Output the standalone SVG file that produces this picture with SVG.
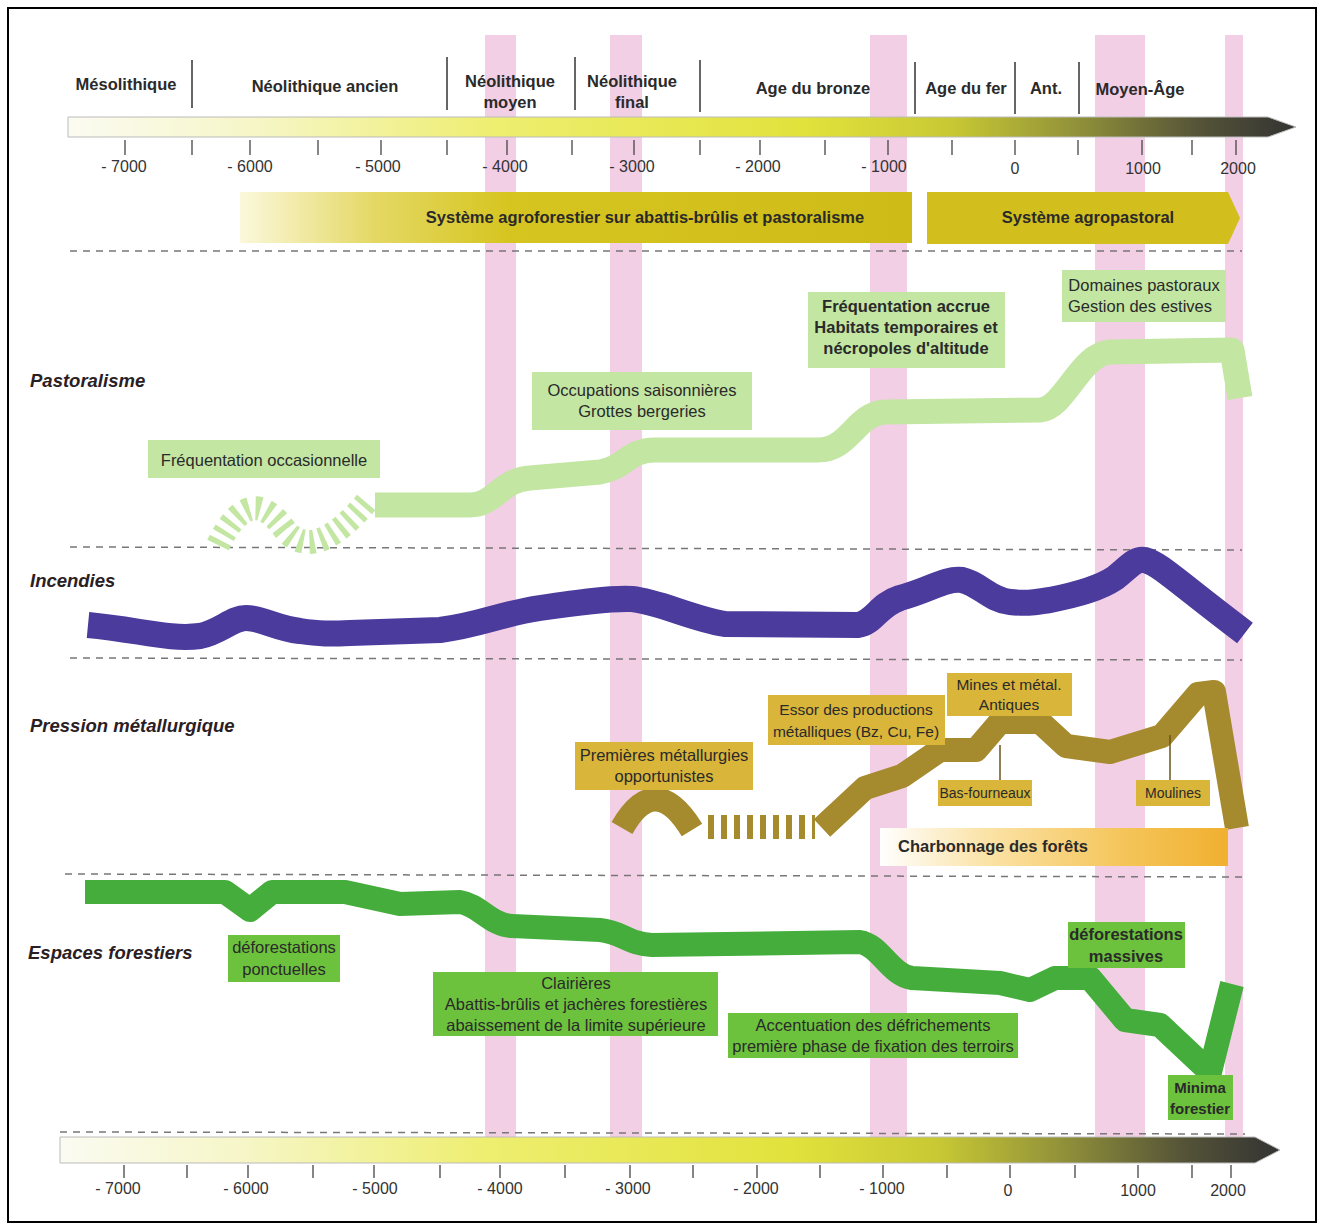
<svg xmlns="http://www.w3.org/2000/svg" width="1324" height="1232" viewBox="0 0 1324 1232">
<defs>
<linearGradient id="axisGrad" x1="0" y1="0" x2="1" y2="0">
<stop offset="0" stop-color="#fbfbf2"/>
<stop offset="0.15" stop-color="#f6f6c8"/>
<stop offset="0.35" stop-color="#eeee70"/>
<stop offset="0.6" stop-color="#e2e23c"/>
<stop offset="0.72" stop-color="#c8c834"/>
<stop offset="0.82" stop-color="#92923a"/>
<stop offset="0.92" stop-color="#555438"/>
<stop offset="1" stop-color="#333333"/>
</linearGradient>
<linearGradient id="sysGrad" x1="0" y1="0" x2="1" y2="0">
<stop offset="0" stop-color="#fbf8dc"/>
<stop offset="0.2" stop-color="#e4d864"/>
<stop offset="0.4" stop-color="#d6c520"/>
<stop offset="1" stop-color="#cfbb18"/>
</linearGradient>
<linearGradient id="charGrad" x1="0" y1="0" x2="1" y2="0">
<stop offset="0" stop-color="#ffffff"/>
<stop offset="0.3" stop-color="#fbe3a8"/>
<stop offset="0.7" stop-color="#f5c55a"/>
<stop offset="1" stop-color="#f0b030"/>
</linearGradient>
<style>
text{font-family:"Liberation Sans","Open Sans",Arial,sans-serif;fill:#2a2a2a}
.per{font-size:16.5px;font-weight:bold;text-anchor:middle}
.yr{font-size:16px;text-anchor:middle;fill:#333}
.sec{font-size:18.5px;font-weight:bold;font-style:italic;fill:#2a2024}
.bx{font-size:16.5px;text-anchor:middle}
.bxb{font-size:16.5px;text-anchor:middle;font-weight:bold}
.sm{font-size:14px}
.md{font-size:15.5px}
.pink{fill:#f3cfe6}
.dash{stroke:#777;stroke-width:1.5;stroke-dasharray:7 6;fill:none}
.div{stroke:#333;stroke-width:1.5}
.tick{stroke:#444;stroke-width:1.3}
.lg{fill:#c3e6a3}
.fg{fill:#6cc23c}
.mg{fill:#d9b53a}
.band{fill:none;stroke-linejoin:round}
</style>
</defs>
<rect x="0" y="0" width="1324" height="1232" fill="#ffffff"/>
<rect x="8" y="8" width="1308" height="1214" fill="none" stroke="#000" stroke-width="2"/>

<g id="periods-bands">
<rect class="pink" x="485" y="35" width="31" height="1103"/>
<rect class="pink" x="610" y="35" width="32" height="1103"/>
<rect class="pink" x="870" y="35" width="37" height="1103"/>
<rect class="pink" x="1095" y="35" width="50" height="1103"/>
<rect class="pink" x="1225" y="35" width="18" height="1103"/>
</g>

<g id="separators">
<line class="dash" x1="70" y1="251" x2="1242" y2="251"/>
<line class="dash" x1="70" y1="547" x2="1242" y2="550"/>
<line class="dash" x1="70" y1="658" x2="1242" y2="660"/>
<line class="dash" x1="65" y1="874" x2="1242" y2="877"/>
<line class="dash" x1="60" y1="1132" x2="1245" y2="1134" stroke-dasharray="4 4"/>
</g>

<g id="top-axis">
<path d="M68 117 L1268 117 L1296 127 L1268 137 L68 137 Z" fill="url(#axisGrad)" stroke="#bbb" stroke-width="1"/>
<g class="tick">
<line x1="125" y1="140" x2="125" y2="155"/><line x1="192" y1="140" x2="192" y2="155"/>
<line x1="250" y1="140" x2="250" y2="155"/><line x1="318" y1="140" x2="318" y2="155"/>
<line x1="381" y1="140" x2="381" y2="155"/><line x1="447" y1="140" x2="447" y2="155"/>
<line x1="507" y1="140" x2="507" y2="155"/><line x1="572" y1="140" x2="572" y2="155"/>
<line x1="634" y1="140" x2="634" y2="155"/><line x1="700" y1="140" x2="700" y2="155"/>
<line x1="760" y1="140" x2="760" y2="155"/><line x1="825" y1="140" x2="825" y2="155"/>
<line x1="888" y1="140" x2="888" y2="155"/><line x1="952" y1="140" x2="952" y2="155"/>
<line x1="1015" y1="140" x2="1015" y2="155"/><line x1="1078" y1="140" x2="1078" y2="155"/>
<line x1="1142" y1="140" x2="1142" y2="155"/><line x1="1192" y1="140" x2="1192" y2="155"/>
<line x1="1236" y1="140" x2="1236" y2="155"/>
</g>
<text class="yr" x="124" y="172">- 7000</text>
<text class="yr" x="250" y="172">- 6000</text>
<text class="yr" x="378" y="172">- 5000</text>
<text class="yr" x="505" y="172">- 4000</text>
<text class="yr" x="632" y="172">- 3000</text>
<text class="yr" x="758" y="172">- 2000</text>
<text class="yr" x="884" y="172">- 1000</text>
<text class="yr" x="1015" y="174">0</text>
<text class="yr" x="1143" y="174">1000</text>
<text class="yr" x="1238" y="174">2000</text>
</g>

<g id="periods">
<line class="div" x1="192" y1="60" x2="192" y2="108"/>
<line class="div" x1="447" y1="57" x2="447" y2="110"/>
<line class="div" x1="575" y1="57" x2="575" y2="110"/>
<line class="div" x1="700" y1="60" x2="700" y2="112"/>
<line class="div" x1="915" y1="62" x2="915" y2="114"/>
<line class="div" x1="1015" y1="62" x2="1015" y2="114"/>
<line class="div" x1="1079" y1="62" x2="1079" y2="114"/>
<text class="per" x="126" y="90">Mésolithique</text>
<text class="per" x="325" y="92">Néolithique ancien</text>
<text class="per" x="510" y="87">Néolithique</text>
<text class="per" x="510" y="108">moyen</text>
<text class="per" x="632" y="87">Néolithique</text>
<text class="per" x="632" y="108">final</text>
<text class="per" x="813" y="94">Age du bronze</text>
<text class="per" x="966" y="94">Age du fer</text>
<text class="per" x="1046" y="94">Ant.</text>
<text class="per" x="1140" y="95">Moyen-Âge</text>
</g>

<g id="systems">
<rect x="240" y="192" width="672" height="51" fill="url(#sysGrad)"/>
<text class="bxb" x="645" y="223">Système agroforestier sur abattis-brûlis et pastoralisme</text>
<path d="M927 192 L1228 192 L1240 218 L1228 244 L927 244 Z" fill="#d2bf1e"/>
<text class="bxb" x="1088" y="223">Système agropastoral</text>
</g>

<g id="section-labels">
<text class="sec" x="30" y="387">Pastoralisme</text>
<text class="sec" x="30" y="587">Incendies</text>
<text class="sec" x="30" y="732">Pression métallurgique</text>
<text class="sec" x="28" y="959">Espaces forestiers</text>
</g>

<g id="curves">
<path class="band" d="M218 545 Q 250 480 285 530 Q 315 565 370 498" stroke="#c3e6a3" stroke-width="24" stroke-dasharray="5 6"/>
<path class="band" d="M375 505 L470 505 C495 505 500 480 530 478 L600 472 C625 468 628 450 655 450 L818 450 C850 450 855 414 885 412 L1040 410 C1065 408 1080 354 1110 352 L1232 350 L1240 398" stroke="#c3e6a3" stroke-width="25"/>
<path class="band" d="M88 625 C140 630 170 640 200 636 C220 632 232 618 246 618 C262 618 275 628 300 631 C320 634 330 634 350 633 L440 630 C480 625 500 614 540 608 C580 602 610 598 632 599 C660 602 690 618 725 624 L858 625 C875 622 878 605 900 598 C930 590 945 578 962 580 C980 584 990 600 1010 602 C1030 604 1035 602 1050 600 C1080 594 1100 588 1115 578 C1128 568 1135 558 1145 560 C1160 564 1175 580 1245 633" stroke="#4a3b9d" stroke-width="26"/>
<path class="band" d="M622 828 Q 655 770 692 830" stroke="#a68a2e" stroke-width="24"/>
<path class="band" d="M708 827 L815 827" stroke="#a68a2e" stroke-width="24" stroke-dasharray="6 7"/>
<path class="band" d="M822 828 L865 788 L902 776 L940 750 L976 750 L1000 722 L1040 722 L1066 746 L1110 752 L1162 736 L1198 694 L1214 692 L1237 828" stroke="#a68a2e" stroke-width="24"/>
<path class="band" d="M85 892 L225 892 L250 910 L272 892 L345 892 L400 904 L460 902 C480 905 490 925 512 926 L600 930 C622 932 628 944 652 945 L860 942 C880 945 890 975 912 978 L1000 983 L1030 990 L1055 978 L1090 978 L1125 1020 L1160 1025 L1210 1072 L1232 984" stroke="#44ad3c" stroke-width="24"/>
<line x1="1000" y1="745" x2="1000" y2="781" stroke="#6a5418" stroke-width="1.5"/>
<line x1="1170" y1="735" x2="1170" y2="781" stroke="#6a5418" stroke-width="1.5"/>
</g>

<g id="n-freq-occ"><rect class="lg" x="148" y="440" width="232" height="38"/><text class="bx" x="264" y="466">Fréquentation occasionnelle</text></g>
<g id="n-occ-sais"><rect class="lg" x="532" y="372" width="220" height="58"/><text class="bx" x="642" y="396">Occupations saisonnières</text><text class="bx" x="642" y="417">Grottes bergeries</text></g>
<g id="n-freq-accrue"><rect class="lg" x="808" y="292" width="197" height="76"/><text class="bxb" x="906" y="312">Fréquentation accrue</text><text class="bxb" x="906" y="333">Habitats temporaires et</text><text class="bxb" x="906" y="354">nécropoles d'altitude</text></g>
<g id="n-domaines"><rect class="lg" x="1062" y="270" width="164" height="52"/><text class="bx" x="1144" y="291">Domaines pastoraux</text><text class="bx" x="1140" y="312">Gestion des estives</text></g>

<g id="n-prem-met"><rect class="mg" x="575" y="742" width="178" height="48"/><text class="bx" x="664" y="761">Premières métallurgies</text><text class="bx" x="664" y="782">opportunistes</text></g>
<g id="n-essor"><rect class="mg" x="768" y="695" width="177" height="50"/><text class="bx md" x="856" y="715">Essor des productions</text><text class="bx md" x="856" y="737">métalliques (Bz, Cu, Fe)</text></g>
<g id="n-mines"><rect class="mg" x="947" y="673" width="125" height="43"/><text class="bx md" x="1009" y="690">Mines et métal.</text><text class="bx md" x="1009" y="710">Antiques</text></g>
<g id="n-bas"><rect class="mg" x="938" y="780" width="94" height="26"/><text class="bx sm" x="985" y="798">Bas-fourneaux</text></g>
<g id="n-moulines"><rect class="mg" x="1136" y="780" width="74" height="26"/><text class="bx sm" x="1173" y="798">Moulines</text></g>
<g id="n-charbon"><rect x="880" y="828" width="348" height="38" fill="url(#charGrad)"/><text class="bxb" x="993" y="852" fill="#3a2a2a">Charbonnage des forêts</text></g>

<g id="n-def-ponct"><rect class="fg" x="228" y="935" width="112" height="47"/><text class="bx" x="284" y="953">déforestations</text><text class="bx" x="284" y="975">ponctuelles</text></g>
<g id="n-clairieres"><rect class="fg" x="433" y="972" width="285" height="64"/><text class="bx" x="576" y="989">Clairières</text><text class="bx" x="576" y="1010">Abattis-brûlis et jachères forestières</text><text class="bx" x="576" y="1031">abaissement de la limite supérieure</text></g>
<g id="n-accent"><rect class="fg" x="728" y="1013" width="290" height="45"/><text class="bx" x="873" y="1031">Accentuation des défrichements</text><text class="bx" x="873" y="1052">première phase de fixation des terroirs</text></g>
<g id="n-def-mass"><rect class="fg" x="1068" y="922" width="117" height="46"/><text class="bxb" x="1126" y="940">déforestations</text><text class="bxb" x="1126" y="962">massives</text></g>
<g id="n-minima"><rect class="fg" x="1168" y="1075" width="65" height="45"/><text class="bxb" x="1200" y="1093" style="font-size:15px">Minima</text><text class="bxb" x="1200" y="1114" style="font-size:15px">forestier</text></g>

<g id="bottom-axis">
<path d="M60 1137 L1255 1137 L1280 1150 L1255 1163 L60 1163 Z" fill="url(#axisGrad)" stroke="#bbb" stroke-width="1"/>
<g class="tick">
<line x1="124" y1="1165" x2="124" y2="1178"/><line x1="187" y1="1165" x2="187" y2="1178"/>
<line x1="248" y1="1165" x2="248" y2="1178"/><line x1="313" y1="1165" x2="313" y2="1178"/>
<line x1="374" y1="1165" x2="374" y2="1178"/><line x1="440" y1="1165" x2="440" y2="1178"/>
<line x1="500" y1="1165" x2="500" y2="1178"/><line x1="565" y1="1165" x2="565" y2="1178"/>
<line x1="630" y1="1165" x2="630" y2="1178"/><line x1="693" y1="1165" x2="693" y2="1178"/>
<line x1="757" y1="1165" x2="757" y2="1178"/><line x1="820" y1="1165" x2="820" y2="1178"/>
<line x1="883" y1="1165" x2="883" y2="1178"/><line x1="947" y1="1165" x2="947" y2="1178"/>
<line x1="1010" y1="1165" x2="1010" y2="1178"/><line x1="1075" y1="1165" x2="1075" y2="1178"/>
<line x1="1138" y1="1165" x2="1138" y2="1178"/><line x1="1192" y1="1165" x2="1192" y2="1178"/>
<line x1="1231" y1="1165" x2="1231" y2="1178"/>
</g>
<text class="yr" x="118" y="1194">- 7000</text>
<text class="yr" x="246" y="1194">- 6000</text>
<text class="yr" x="375" y="1194">- 5000</text>
<text class="yr" x="500" y="1194">- 4000</text>
<text class="yr" x="628" y="1194">- 3000</text>
<text class="yr" x="756" y="1194">- 2000</text>
<text class="yr" x="882" y="1194">- 1000</text>
<text class="yr" x="1008" y="1196">0</text>
<text class="yr" x="1138" y="1196">1000</text>
<text class="yr" x="1228" y="1196">2000</text>
</g>
</svg>
